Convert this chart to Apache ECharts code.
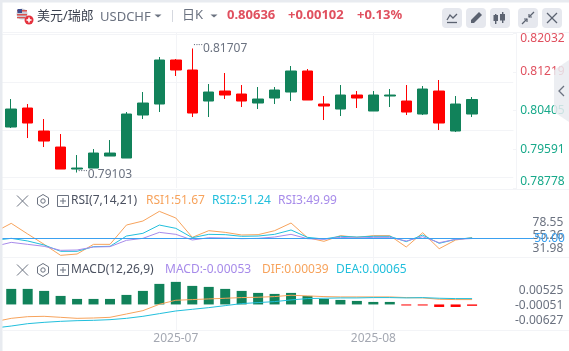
<!DOCTYPE html>
<html><head><meta charset="utf-8">
<style>html,body{margin:0;padding:0;background:#fff}#c{width:569px;height:351px}</style>
<script src="https://cdn.jsdelivr.net/npm/echarts@6/dist/echarts.min.js"></script>
</head><body><div id="c"></div>
<script>
// index 0 is the off-screen bar whose lines enter from the left edge
const categories = ['','','','','','','','','','','','2025-07','','','','','','','','','','','','2025-08','','','','','','','',''];
// [open, close, low, high]
const candles = [
 '-',
 [.80058,.80436,.80037,.80646],[.80457,.80142,.79827,.80541],[.79974,.79764,.79638,.80226],[.79638,.79176,.79176,.79911],
 [.79176,.79197,.79103,.79470],[.79197,.79512,.79197,.79596],[.79449,.79512,.79449,.79785],[.79407,.80331,.79407,.80373],
 [.80310,.80562,.80226,.80793],[.80541,.81465,.80373,.81528],[.81465,.81255,.81129,.81486],[.81255,.80352,.80268,.81707],
 [.80604,.80793,.80268,.80961],[.80814,.80730,.80646,.81192],[.80751,.80604,.80478,.80940],[.80562,.80646,.80436,.80898],
 [.80667,.80835,.80541,.80898],[.80793,.81234,.80604,.81339],[.81234,.80625,.80625,.81276],[.80541,.80499,.80205,.80709],
 [.80436,.80730,.80289,.80940],[.80730,.80667,.80457,.80814],[.80394,.80730,.80394,.80814],[.80709,.80730,.80478,.80856],
 [.80604,.80373,.80310,.80940],[.80331,.80856,.80310,.80919],[.80814,.80142,.79995,.81045],[.79974,.80541,.79953,.80709],
 [.80331,.80636,.80268,.80688]
];
const rsi1 = [61.8,77.6,58.2,39.4,19.4,21.8,39.4,39.4,74.5,81.8,99.4,87.3,52.1,64.2,61.2,56.4,57,64.2,78.2,51.5,44.9,55.2,52.1,55.2,55.2,34.6,60.6,31.5,47.3,51.67];
const rsi2 = [46.7,50.3,45.5,38.2,26.7,26.7,35.2,35.8,54.5,59.4,74.5,68.5,51.5,57.6,57,54,54.5,57.6,65.5,52.1,49.1,54,52.7,54,54,44.3,56.4,41.2,48.5,51.24];
const rsi3 = [35.8,43,39.4,35.8,28.5,29.1,34.6,35.2,46.7,50.3,61.2,57.6,47.3,51.5,50.9,49.7,50.3,52.7,57.6,49.7,48.5,52.1,50.9,52.1,52.1,45.5,53.3,42.4,48.5,49.99];
const dif = [-.0067,-.0054,-.00475,-.00462,-.00501,-.0054,-.00527,-.00501,-.00371,-.00241,.00007,.00163,.00189,.00215,.00241,.00267,.0028,.00306,.00358,.00332,.00306,.00293,.00293,.00293,.00293,.00267,.00254,.00202,.00189,.00189];
const dea = [-.00917,-.00839,-.00748,-.00696,-.00657,-.00631,-.00618,-.00592,-.0054,-.00462,-.00358,-.00254,-.00189,-.00124,-.00046,.00033,.00072,.00111,.00176,.00228,.00241,.00254,.00254,.00267,.00267,.00254,.00267,.00241,.00228,.00228];
const macd = ['-',.00605,.00605,.00527,.00332,.00215,.00215,.00215,.00371,.00527,.008,.00878,.00722,.00683,.00605,.00527,.00449,.0041,.00449,.00332,.00215,.00176,.00137,.00098,.00098,-.0004,-.0004,-.00098,-.00098,-.00053];
const priceTicks = [.82032,.81219,.80405,.79591,.78778];
const rsiTicks = [78.55,55.26,31.98];
const macdTicks = [.00525,-.00051,-.00627];

const GREEN='#11825a', RED='#ff0000', GRID='#f3f4f7', TXT='#6b7280', ORANGE='#f7a35c', CYAN='#22bfdc', PURPLE='#a78bea', HRED='#e0505f', BLUE='#3aa0f0';
const FONT='"Noto Sans","Noto Sans CJK SC",sans-serif';
const gridL=-13.46, gridW=526.7;
const grids=[{top:33,height:155},{top:189,height:68},{top:257,height:73}].map(g=>({left:gridL,width:gridW,outerBoundsMode:'none',containLabel:false,...g}));
const xAxis=grids.map((g,i)=>({type:'category',gridIndex:i,data:categories,boundaryGap:true,
  axisLine:{show:false},axisTick:{show:false},
  axisLabel:{show:i===2,interval:(k,v)=>v!=='',color:'#a4a8b2',fontSize:12,fontFamily:FONT,margin:3},
  splitLine:{show:true,alignWithLabel:true,interval:(k,v)=>v!=='',lineStyle:{color:GRID,width:1}}}));
const yAxis=[
 {type:'value',gridIndex:0,position:'right',min:.78778,max:.82032,scale:true,
  axisLine:{show:false},axisTick:{show:false},splitLine:{show:false},
  axisLabel:{customValues:priceTicks,formatter:v=>v.toFixed(5),fontSize:12,fontFamily:FONT,margin:7,hideOverlap:false,
    verticalAlignMinLabel:'top',verticalAlignMaxLabel:'bottom',
    color:v=>v>.81?HRED:'#17a98a'}},
 {type:'value',gridIndex:1,position:'right',min:16.4,max:140,
  axisLine:{show:false},axisTick:{show:false},splitLine:{show:false},
  axisLabel:{customValues:rsiTicks,formatter:v=>v.toFixed(2),fontSize:12,fontFamily:FONT,align:'right',margin:50,hideOverlap:false,color:TXT}},
 {type:'value',gridIndex:2,position:'right',min:-.00994,max:.01846,
  axisLine:{show:false},axisTick:{show:false},splitLine:{show:false},
  axisLabel:{customValues:macdTicks,formatter:v=>v.toFixed(5),fontSize:12,fontFamily:FONT,align:'right',margin:50,color:TXT}}
];
const line=(name,data,color,g)=>({name,type:'line',data,xAxisIndex:g,yAxisIndex:g,symbol:'none',silent:true,animation:false,
  lineStyle:{color,width:1},z:3});
const ptLabel=(val)=>({show:true,position:'right',distance:1,formatter:'{d|····}'+val,color:TXT,fontSize:12,fontFamily:FONT,
  rich:{d:{color:TXT,fontSize:9,padding:[0,0,6,0]}}});
const series=[
 {type:'line',data:[],xAxisIndex:0,yAxisIndex:0,z:1,markLine:{z:1,silent:true,symbol:'none',animation:false,label:{show:false},
   lineStyle:{color:GRID,width:1,type:'solid'},data:priceTicks.map(v=>({yAxis:v}))}},
 {type:'candlestick',data:candles,xAxisIndex:0,yAxisIndex:0,barWidth:11,animation:false,z:3,
  itemStyle:{color:GREEN,color0:RED,borderColor:GREEN,borderColor0:RED,borderWidth:1},
  markPoint:{symbol:'circle',symbolSize:0,animation:false,silent:true,data:[
    {coord:[12,.81707],label:ptLabel('0.81707')},
    {coord:[5,.79103],label:{...ptLabel('0.79103'),offset:[0,2]}}]}},
 line('RSI1',rsi1,ORANGE,1),line('RSI2',rsi2,CYAN,1),line('RSI3',rsi3,PURPLE,1),
 {type:'line',data:[],xAxisIndex:1,yAxisIndex:1,z:4,markLine:{silent:true,symbol:'none',animation:false,
   label:{show:true,position:'end',formatter:'50.00',color:BLUE,fontSize:12,fontFamily:FONT,distance:21},
   lineStyle:{color:BLUE,width:1,type:'solid'},data:[{yAxis:50}]}},
 {type:'bar',data:macd,xAxisIndex:2,yAxisIndex:2,barWidth:10,animation:false,silent:true,
  itemStyle:{color:p=>p.value<0?RED:GREEN}},
 line('DIF',dif,ORANGE,2),line('DEA',dea,CYAN,2)
];
const Z=100;
const rect=(x,y,w,h,fill,r,op)=>({type:'rect',z:Z,silent:true,shape:{x,y,width:w,height:h,r:r||0},style:{fill,opacity:op==null?1:op}});
const ln=(x1,y1,x2,y2,stroke,w)=>({type:'line',z:Z,silent:true,shape:{x1,y1,x2,y2},style:{stroke,lineWidth:w||1}});
const text=(x,y,t,fill,o)=>({type:'text',z:Z,silent:true,x,y,style:Object.assign({text:t,fill,font:'12px '+FONT,textVerticalAlign:'middle',textAlign:'left'},o||{})});
const tri=(x,y,c)=>({type:'polygon',z:Z,silent:true,shape:{points:[[x-3.5,y-1.5],[x+3.5,y-1.5],[x,y+1.5]]},style:{fill:c}});
const pl=(points,stroke,w)=>({type:'polyline',z:Z,silent:true,shape:{points},style:{stroke,lineWidth:w||1,fill:null}});
const pg=(points,fill)=>({type:'polygon',z:Z,silent:true,shape:{points},style:{fill}});
function rowIcons(y){return [
  ln(17,y-5.5,28,y+5.5,TXT),ln(28,y-5.5,17,y+5.5,TXT),
  {type:'polygon',z:Z,silent:true,shape:{points:[[43,y-6.5],[48.5,y-3.2],[48.5,y+3.2],[43,y+6.5],[37.5,y+3.2],[37.5,y-3.2]]},style:{stroke:TXT,lineWidth:1,fill:'none'}},
  {type:'circle',z:Z,silent:true,shape:{cx:43,cy:y,r:2.2},style:{stroke:TXT,lineWidth:1,fill:'none'}},
  {type:'rect',z:Z,silent:true,shape:{x:57.5,y:y-5.5,width:11,height:11},style:{stroke:TXT,lineWidth:1,fill:'none'}},
  ln(60,y,66,y,TXT),ln(63,y-3,63,y+3,TXT)];}
const IC='#5b6270';
const graphic=[
 rect(0,0,569,2.5,'#e8ebf0'),rect(0,0,2.5,351,'#e8ebf0'),
 ln(3,32.5,569,32.5,GRID),
 ln(516.5,33,516.5,189,GRID),
 ...[33,72,110,149,188].map(y=>ln(513,y+.5,516,y+.5,GRID)),
 ln(3,189.5,569,189.5,GRID),ln(3,257.5,569,257.5,GRID),ln(3,330.5,569,330.5,GRID),
 ln(513,238.5,534,238.5,BLUE),
 {type:'circle',z:Z,silent:true,shape:{cx:22,cy:14,r:5.5},style:{fill:'#c9ccd6'}},
 rect(17,10,10,1.5,'#d9534f'),rect(17,14,10,1.5,'#d9534f'),rect(17,17,8,1.3,'#d9534f'),rect(17.5,9,4.5,4,'#3f4d8c'),
 {type:'circle',z:Z,silent:true,shape:{cx:29,cy:20,r:4.5},style:{fill:'#e5323e'}},
 rect(26.5,19.2,5,1.6,'#fff'),rect(28.2,17.5,1.6,5,'#fff'),
 text(37,16,'美元/瑞郎','#3c4250',{font:'13px '+FONT}),
 text(100,17,'USDCHF',TXT,{font:'13px '+FONT}),
 tri(158,16,TXT),
 ln(172.5,10,172.5,22,'#d5d8df'),
 text(182,15,'日K',TXT,{font:'13px '+FONT}),
 tri(214,16,TXT),
 text(227,15,'0.80636',HRED,{font:'bold 13px '+FONT}),
 text(288,15,'+0.00102',HRED,{font:'bold 13px '+FONT}),
 text(357,15,'+0.13%',HRED,{font:'bold 13px '+FONT}),
 ...[442,466,490,518,542].map(x=>rect(x,8,20,20,'#e6e8ee',4)),
 pl([[447,20],[450,15],[453,18],[457,14]],IC,1.3),
 ln(447,22.5,457,22.5,IC,1.3),
 pg([[471,20],[479,12],[482,15],[474,23],[471,23]],IC),
 rect(495,14,1.4,10,IC),rect(493.5,15,4.5,6,IC),rect(502,12,1.4,11,IC),rect(500,14,5,6.5,IC),
 ln(522,24,527,19,IC,1.2),ln(529,17,534,12,IC,1.2),
 pl([[524,19],[527,19],[527,22]],IC,1.2),pl([[529,14],[529,17],[532,17]],IC,1.2),
 ln(547,13,557,23,IC,1.2),ln(557,13,547,23,IC,1.2),
 {type:'polygon',z:Z,silent:true,shape:{points:[[569,60],[554,70],[554,112],[569,122]]},style:{fill:'#e9ebf0',opacity:.85}},
 pl([[564,86],[559,91],[564,96]],TXT,1.3),
 ...rowIcons(201),
 text(71,201,'RSI(7,14,21)','#4b5160'),
 text(146,201,'RSI1:51.67',ORANGE),
 text(212,201,'RSI2:51.24',CYAN),
 text(278,201,'RSI3:49.99',PURPLE),
 ...rowIcons(270),
 text(71,270,'MACD(12,26,9)','#4b5160'),
 text(165,270,'MACD:-0.00053',PURPLE),
 text(262,270,'DIF:0.00039',ORANGE),
 text(336,270,'DEA:0.00065',CYAN)
];
const chart=echarts.init(document.getElementById('c'),null,{renderer:'canvas'});
chart.setOption({animation:false,backgroundColor:'#fff',grid:grids,xAxis,yAxis,series,graphic});
</script></body></html>
